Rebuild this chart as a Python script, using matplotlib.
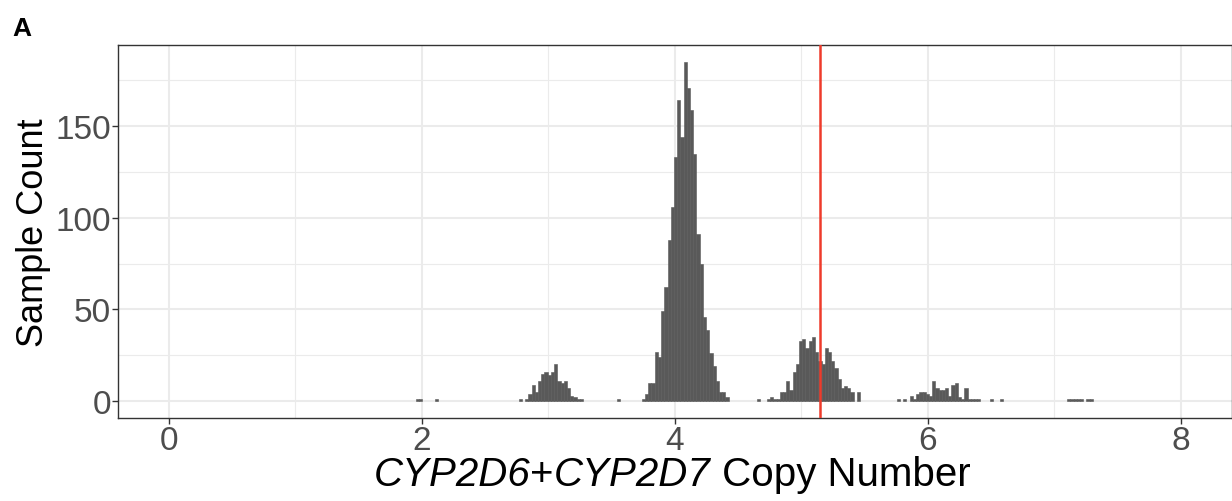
import matplotlib
matplotlib.use("Agg")
import matplotlib.pyplot as plt
from matplotlib.offsetbox import TextArea, HPacker, AnchoredOffsetbox
import numpy as np

plt.rcParams['font.family'] = ['Liberation Sans', 'DejaVu Sans']

# histogram bins (copy number)
bin_width = 0.0254

starts_near2 = 1.955
counts_near2 = [1, 1, 0, 0, 0, 0, 1]

starts_cn3 = 2.767
counts_cn3 = [1, 0, 1, 4, 9, 5, 11, 15, 16, 14, 16, 20, 11, 10, 11, 7, 3, 2, 1, 1]

starts_gap = 3.54
counts_gap = [1]

starts_cn4 = 3.740
counts_cn4 = [1, 4, 10, 10, 27, 24, 49, 62, 88, 106, 133, 164, 144, 185,
              171, 159, 135, 91, 75, 46, 39, 26, 19, 11, 5, 5, 2]

starts_cn5 = 4.652
counts_cn5 = [1, 0, 0, 1, 2, 1, 1, 5, 5, 11, 6, 16, 20, 33, 34, 29, 33, 35,
              27, 22, 20, 29, 27, 22, 18, 12, 7, 8, 7, 5, 0, 5]

starts_cn6 = 5.755
counts_cn6 = [1, 0, 1, 0, 3, 1, 4, 5, 5, 4, 3, 11, 7, 6, 6, 7, 3, 9, 10, 2,
              1, 7, 1, 1, 1, 1, 0, 0, 0, 1, 0, 0, 1]

starts_cn7 = 7.101
counts_cn7 = [1, 1, 1, 1, 1, 0, 1, 1]

cutoff = 5.15

x_ticks = [0, 2, 4, 6, 8]
y_ticks = [0, 50, 100, 150]

clusters = [(starts_near2, counts_near2), (starts_cn3, counts_cn3),
            (starts_gap, counts_gap), (starts_cn4, counts_cn4),
            (starts_cn5, counts_cn5), (starts_cn6, counts_cn6),
            (starts_cn7, counts_cn7)]

fig = plt.figure(figsize=(12.32, 5.02), dpi=100)
ax = fig.add_axes([118 / 1232, 1 - 419 / 502, (1231.5 - 118) / 1232, (419 - 46) / 502])

for start, counts in clusters:
    counts = np.array(counts, dtype=float)
    lefts = start + np.arange(len(counts)) * bin_width
    keep = counts > 0
    ax.bar(lefts[keep], counts[keep], width=bin_width, align='edge',
           color='#595959', edgecolor='#595959', linewidth=0.4, zorder=2)

ax.axvline(cutoff, color='#EE3B2B', linewidth=1.8, zorder=3)

ax.set_xlim(-0.4, 8.4)
ax.set_ylim(-9.25, 194.25)
ax.set_xticks(x_ticks)
ax.set_yticks(y_ticks)
ax.set_xticks([1, 3, 5, 7], minor=True)
ax.set_yticks([25, 75, 125, 175], minor=True)
ax.grid(which='major', color='#EBEBEB', linewidth=1.5, zorder=0)
ax.grid(which='minor', color='#EBEBEB', linewidth=0.8, zorder=0)
ax.set_axisbelow(True)

for s in ax.spines.values():
    s.set_color('#333333')
    s.set_linewidth(1.0)

ax.tick_params(which='major', length=4, width=1.0, color='#333333',
               labelsize=24, labelcolor='#4D4D4D', pad=1)
ax.tick_params(which='minor', length=0)

ax.set_ylabel('Sample Count', fontsize=26, labelpad=3)

# x title: gene names in italics, rest upright
title_parts = [('CYP2D6', 'italic'), ('+', 'normal'),
               ('CYP2D7', 'italic'), (' Copy Number', 'normal')]
boxes = [TextArea(t, textprops=dict(fontsize=29, fontstyle=st, color='black'))
         for t, st in title_parts]
pack = HPacker(children=boxes, align='baseline', pad=0, sep=0)
xtitle = AnchoredOffsetbox(loc='center', child=pack, frameon=False, pad=0,
                           borderpad=0, bbox_to_anchor=(0.5455, 1 - 475 / 502),
                           bbox_transform=fig.transFigure)
fig.add_artist(xtitle)

fig.text(12 / 1232, 1 - 36 / 502, 'A', fontsize=19, fontweight='bold')

fig.savefig('out.png', dpi=100)
